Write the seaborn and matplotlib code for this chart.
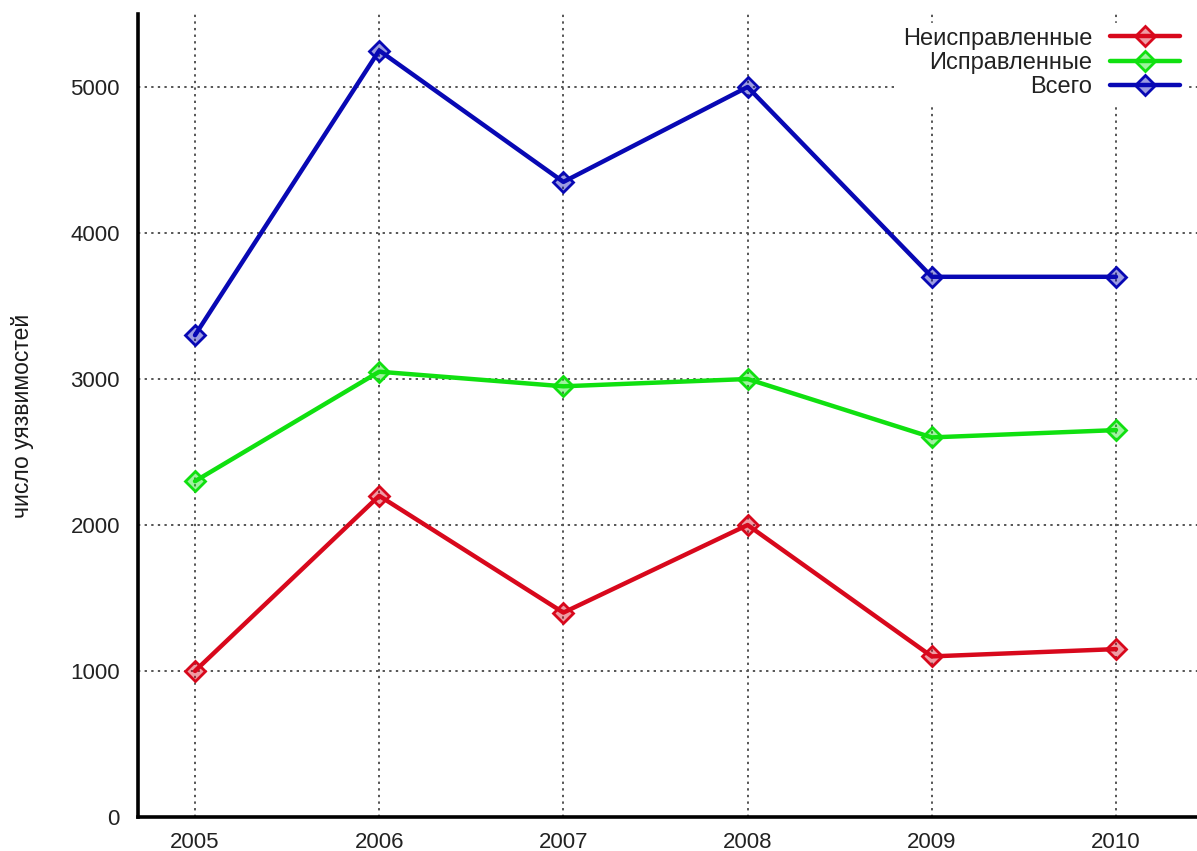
import matplotlib
matplotlib.use("Agg")
import matplotlib.pyplot as plt
import seaborn as sns
import pandas as pd

# Vulnerability counts per year
years = [2005, 2006, 2007, 2008, 2009, 2010]
unfixed = [1000, 2200, 1400, 2000, 1100, 1150]
fixed = [2300, 3050, 2950, 3000, 2600, 2650]
total = [3300, 5250, 4350, 5000, 3700, 3700]
series_names = ["Неисправленные", "Исправленные", "Всего"]
yticks = [0, 1000, 2000, 3000, 4000, 5000]

colors = {"Неисправленные": "#d8081c", "Исправленные": "#10e010", "Всего": "#0808b4"}

df = pd.concat([
    pd.DataFrame({"year": years, "count": vals, "series": name})
    for name, vals in zip(series_names, [unfixed, fixed, total])
])

sns.set_style("white")
plt.rcParams["font.family"] = ["Liberation Sans", "DejaVu Sans"]

fig = plt.figure(figsize=(11.97, 8.51), dpi=100)
ax = fig.add_axes([138 / 1197, 1 - 817 / 851, 1 - 138 / 1197, (817 - 14) / 851])

sns.lineplot(data=df, x="year", y="count", hue="series", hue_order=series_names,
             palette=colors, marker="D", markersize=10, linewidth=3.2,
             markeredgewidth=2, ax=ax, legend=False)
for line, name in zip(ax.lines, series_names):
    line.set_markerfacecolor(matplotlib.colors.to_rgba(colors[name], 0.4))
    line.set_markeredgecolor(colors[name])
    line.set_label(name)

ax.set_xlim(2005 - 57 / 184.2, 2010 + 81 / 184.2)
ax.set_ylim(0, 5500)
ax.set_xticks(years)
ax.set_xticklabels([str(y) for y in years])
ax.set_yticks(yticks)
ax.grid(True, linestyle=(0, (1.2, 2.2)), color="#555555", linewidth=1.4)
ax.set_axisbelow(True)

for side in ("top", "right"):
    ax.spines[side].set_visible(False)
for side in ("left", "bottom"):
    ax.spines[side].set_color("black")
    ax.spines[side].set_linewidth(2.6)

ax.tick_params(axis="both", direction="in", length=9, width=1.5, color="black",
               labelsize=16, labelcolor="#222222")
ax.tick_params(axis="y", pad=13)
ax.tick_params(axis="x", pad=11)
ax.set_xlabel("")
ax.set_ylabel("число уязвимостей", fontsize=16.5, labelpad=26, color="#1a1a1a")

leg = ax.legend(loc="upper right", bbox_to_anchor=(1185 / 1197, 1 - 23 / 851),
                bbox_transform=fig.transFigure, markerfirst=False, frameon=True,
                fontsize=17, handlelength=2.97, handletextpad=0.76, labelspacing=0.09,
                borderaxespad=0, borderpad=0.2)
leg.get_frame().set_edgecolor("white")
leg.get_frame().set_facecolor("white")
leg.get_frame().set_alpha(1.0)
for t in leg.get_texts():
    t.set_ha("right")
    t.set_color("#222222")
leg._legend_box.align = "right"

fig.savefig("out.png", dpi=100)
